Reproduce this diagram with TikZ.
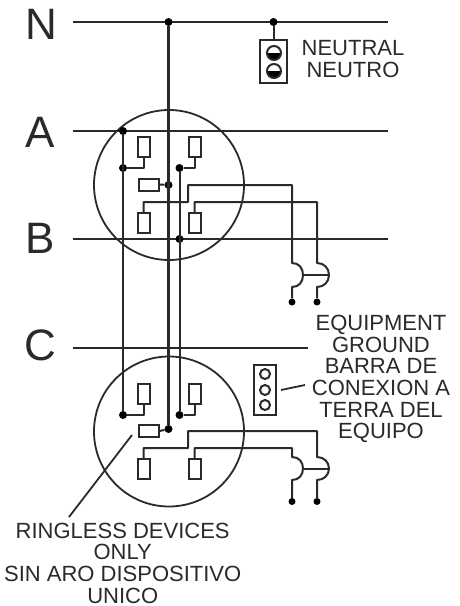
\documentclass[tikz,border=0pt]{standalone}
\usepackage{fontspec}
\setmainfont{Liberation Sans}
\usetikzlibrary{calc}
\definecolor{wire}{HTML}{2A2A2A}
\tikzset{wireline/.style={line width=2pt,draw=wire,line join=round},
thinline/.style={line width=1.8pt,draw=wire},
joint/.style={circle,fill=black,inner sep=0pt,minimum size=8pt},
endjoint/.style={circle,fill=black,inner sep=0pt,minimum size=7pt},
tallbox/.style={draw=wire,line width=2pt,fill=white,inner sep=0pt,minimum width=12pt,minimum height=20pt},
widebox/.style={draw=wire,line width=2pt,fill=white,inner sep=0pt,minimum width=20pt,minimum height=12pt},
busname/.style={text=wire,font=\fontsize{44}{44}\selectfont},
smalltext/.style={text=wire,align=center,inner sep=0pt,font=\fontsize{22}{21.7}\selectfont},
lug/.style={circle,draw=wire,line width=2pt,inner sep=0pt,minimum size=10pt,fill=white}}
\begin{document}
\begin{tikzpicture}[x=1pt,y=-1pt]
\useasboundingbox[fill=white] (0,0) rectangle (460,606);
% bus names
\node[busname] (nameN) at (41,24) {N};
\node[busname] (nameA) at (40,132) {A};
\node[busname] (nameB) at (40,238) {B};
\node[busname] (nameC) at (40,345) {C};
% meter circles
\node[circle,thinline,minimum size=150pt,inner sep=0pt] (meterone) at (169,185) {};
\node[circle,thinline,minimum size=150pt,inner sep=0pt] (metertwo) at (169,431.5) {};
% buses
\coordinate (Nstart) at (73,22);
\coordinate (Nend) at (388,22);
\coordinate (Astart) at (73,131);
\coordinate (Aend) at (388,131);
\coordinate (Bstart) at (73,239);
\coordinate (Bend) at (388,239);
\coordinate (Cstart) at (73,348);
\coordinate (Cend) at (308,348);
\draw[wireline] (Nstart) -- (Nend);
\draw[wireline] (Astart) -- (Aend);
\draw[wireline] (Bstart) -- (Bend);
\draw[wireline] (Cstart) -- (Cend);
% joints
\node[joint] (topN) at (168.5,22) {};
\node[joint] (neutralN) at (273.5,22) {};
\node[joint] (topA) at (123,131) {};
\node[joint] (leftone) at (123,168) {};
\node[joint] (rightone) at (179.5,168) {};
\node[joint] (midone) at (168.5,185) {};
\node[joint] (topB) at (179.5,239) {};
\node[joint] (lefttwo) at (123,415) {};
\node[joint] (righttwo) at (179.5,415) {};
\node[joint] (midtwo) at (168.5,429) {};
% risers
\draw[wireline] (topA) -- (lefttwo);
\draw[wireline,line width=2.3pt] (topN) -- (midtwo);
\draw[wireline] (rightone) -- (righttwo);
% upper meter
\node[tallbox] (ulone) at (143.5,147) {};
\node[tallbox] (urone) at (194.5,147) {};
\node[widebox] (mbone) at (148.5,184.5) {};
\node[tallbox] (llone) at (143.5,223) {};
\node[tallbox] (lrone) at (194.5,223) {};
\draw[wireline] (ulone.south) |- (leftone);
\draw[wireline] (urone.south) |- (rightone);
\draw[wireline] (mbone.east) -- (midone);
% lower meter
\node[tallbox] (ultwo) at (143.5,393.5) {};
\node[tallbox] (urtwo) at (194.5,393.5) {};
\node[widebox] (mbtwo) at (148.5,431) {};
\node[tallbox] (lltwo) at (143.5,469) {};
\node[tallbox] (lrtwo) at (194.5,469) {};
\draw[wireline] (ultwo.south) |- (lefttwo);
\draw[wireline] (urtwo.south) |- (righttwo);
\draw[wireline] (mbtwo.east) -- (midtwo);
% breakers upper
\coordinate (hookAone) at (292,263);
\coordinate (hookBone) at (317,263);
\coordinate (tailAone) at (292,287);
\coordinate (tailBone) at (317,287);
\coordinate (bulgeAone) at (303,275);
\coordinate (bulgeBone) at (329,275);
\node[endjoint] (endAone) at (292,302) {};
\node[endjoint] (endBone) at (317,302) {};
\draw[wireline] (llone.north) |- (188,202) |- (292,185) -- (hookAone)
 .. controls (299,263) and (303,268) .. (bulgeAone)
 .. controls (303,282) and (299,287) .. (tailAone) -- (endAone);
\draw[wireline] (lrone.north) |- (317,202) -- (hookBone)
 .. controls (324,263) and (329,268) .. (bulgeBone)
 .. controls (329,282) and (324,287) .. (tailBone) -- (endBone);
\draw[wireline] (bulgeAone) -- (bulgeBone);
% breakers lower
\coordinate (hookAtwo) at (292,457);
\coordinate (hookBtwo) at (317,457);
\coordinate (tailAtwo) at (292,480);
\coordinate (tailBtwo) at (317,480);
\coordinate (bulgeAtwo) at (303,468.5);
\coordinate (bulgeBtwo) at (329,468.5);
\node[endjoint] (endAtwo) at (292,501.5) {};
\node[endjoint] (endBtwo) at (317,501.5) {};
\draw[wireline] (lltwo.north) |- (188,448) |- (317,431) -- (hookBtwo)
 .. controls (324,457) and (329,462) .. (bulgeBtwo)
 .. controls (329,475) and (324,480) .. (tailBtwo) -- (endBtwo);
\draw[wireline] (lrtwo.north) |- (292,448) -- (hookAtwo)
 .. controls (299,457) and (303,462) .. (bulgeAtwo)
 .. controls (303,475) and (299,480) .. (tailAtwo) -- (endAtwo);
\draw[wireline] (bulgeAtwo) -- (bulgeBtwo);
% neutral bar
\node[draw=wire,line width=2pt,inner sep=0pt,minimum width=27pt,minimum height=43pt] (neutralbar) at (273.5,61.5) {};
\draw[wireline] (neutralN) -- (neutralbar.north);
\foreach \name/\ypos in {holeone/53,holetwo/71}{
\node[circle,draw=wire,line width=2pt,inner sep=0pt,minimum size=14pt,
 path picture={\fill[black] ($(path picture bounding box.west)+(0,0)$) rectangle (path picture bounding box.south east);}] (\name) at (274,\ypos) {};
}
\node[smalltext,anchor=center] (neutraltext) at (353,59) {NEUTRAL\\NEUTRO};
% ground bar
\node[draw=wire,line width=2pt,inner sep=0pt,minimum width=22pt,minimum height=50pt] (groundbar) at (265,390) {};
\node[lug] (lugone) at (265,374) {};
\node[lug] (lugtwo) at (265,390) {};
\node[lug] (lugthree) at (265,405) {};
\coordinate (groundfrom) at (281,390);
\coordinate (groundto) at (305,385);
\draw[thinline] (groundfrom) -- (groundto);
\node[smalltext] (groundtext) at (381,379) {EQUIPMENT\\GROUND\\BARRA DE\\CONEXION A\\TERRA DEL\\EQUIPO};
% ringless leader
\coordinate (ringfrom) at (132,435);
\coordinate (ringto) at (69,517);
\draw[thinline] (ringfrom) -- (ringto);
\node[smalltext] (ringtext) at (122.7,563) {RINGLESS DEVICES\\ONLY\\SIN ARO DISPOSITIVO\\UNICO};
\end{tikzpicture}
\end{document}
